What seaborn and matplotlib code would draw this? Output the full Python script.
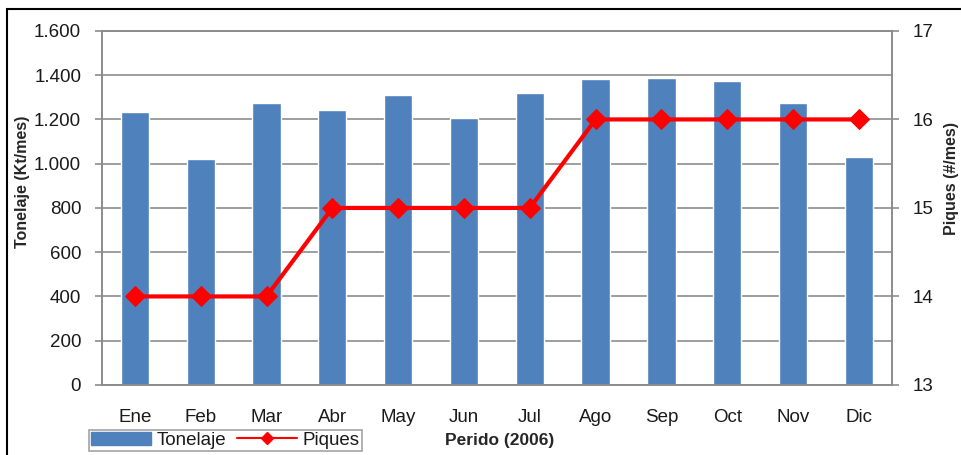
import numpy as np
import pandas as pd
import matplotlib
matplotlib.use("Agg")
import matplotlib.pyplot as plt
import seaborn as sns
from matplotlib.patches import Patch, Rectangle
from matplotlib.lines import Line2D
from matplotlib.ticker import FuncFormatter, FixedLocator

# Datos
meses = ['Ene', 'Feb', 'Mar', 'Abr', 'May', 'Jun', 'Jul', 'Ago', 'Sep', 'Oct', 'Nov', 'Dic']
tonelaje = [1234, 1021, 1275, 1243, 1311, 1207, 1320, 1383, 1388, 1374, 1275, 1031]
piques = [14, 14, 14, 15, 15, 15, 15, 16, 16, 16, 16, 16]

df = pd.DataFrame({'Mes': meses, 'Tonelaje': tonelaje, 'Piques': piques})

sns.set_style('white')
plt.rcParams['font.family'] = ['Liberation Sans', 'DejaVu Sans']

azul = '#4F81BD'
rojo = '#FF0000'
gris = '#8C8C8C'
texto = '#1A1A1A'

fig = plt.figure(figsize=(9.62, 4.55), dpi=100)
ax = fig.add_axes([0.106, 0.154, 0.821, 0.778])

sns.barplot(data=df, x='Mes', y='Tonelaje', color=azul, width=0.43,
            saturation=1, ax=ax, zorder=2)
ax.set_ylim(0, 1600)
ax.set_xlim(-0.5, 11.5)
ax.set_yticks(np.arange(0, 1601, 200))
ax.yaxis.set_major_formatter(FuncFormatter(lambda v, p: f'{int(v):,}'.replace(',', '.')))
ax.grid(axis='y', color=gris, lw=1.2, zorder=0)
ax.set_axisbelow(True)
ax.set_xlabel('')
ax.set_ylabel('')

# marcas del eje x entre categorías
ax.xaxis.set_minor_locator(FixedLocator(np.arange(-0.5, 12, 1)))
ax.tick_params(axis='x', which='major', length=0, labelsize=13.5, pad=17,
               labelcolor=texto)
ax.tick_params(axis='x', which='minor', length=5, color=gris, width=1.2)
ax.tick_params(axis='y', length=5, color=gris, width=1.2, labelsize=13.5,
               pad=10, left=True, labelcolor=texto)

for s in ['left', 'bottom', 'right', 'top']:
    ax.spines[s].set_color(gris)
    ax.spines[s].set_linewidth(1.2)

ax2 = ax.twinx()
sns.lineplot(data=df, x='Mes', y='Piques', color=rojo, lw=3, marker='D',
             markersize=10, markeredgecolor=rojo, sort=False, ax=ax2, zorder=3)
ax2.set_ylim(13, 17)
ax2.set_yticks([13, 14, 15, 16, 17])
ax2.set_ylabel('')
ax2.set_xlabel('')
ax2.tick_params(axis='y', length=5, color=gris, width=1.2, labelsize=13.5,
                pad=10, right=True, labelcolor=texto)
for s in ['left', 'bottom', 'right', 'top']:
    ax2.spines[s].set_color(gris)
    ax2.spines[s].set_linewidth(1.2)

fig.text(0.023, 0.6, 'Tonelaje (Kt/mes)', rotation=90, ha='center', va='center',
         fontsize=11.5, fontweight='bold')
fig.text(0.989, 0.608, 'Piques (#/mes)', rotation=90, ha='center', va='center',
         fontsize=11.5, fontweight='bold')
fig.text(0.519, 0.031, 'Perido (2006)', ha='center', va='center',
         fontsize=12.5, fontweight='bold')

handles = [Patch(facecolor=azul, edgecolor=azul),
           Line2D([0], [0], color=rojo, lw=1.5, marker='D', markersize=6)]
leg = fig.legend(handles, ['Tonelaje', 'Piques'], loc='center',
                 bbox_to_anchor=(0.234, 0.032), ncol=2, fontsize=13.5,
                 frameon=True, fancybox=False, handlelength=3.2,
                 handletextpad=0.3, columnspacing=0.6, borderpad=0.1)
leg.get_frame().set_edgecolor(gris)
leg.get_frame().set_linewidth(1.2)
for t in leg.get_texts():
    t.set_color(texto)

# marco exterior
fig.patches.append(Rectangle((7 / 962, -0.1), 1.1, 1.1 - 9 / 455,
                             transform=fig.transFigure, fill=False,
                             edgecolor='black', lw=1.5))

fig.savefig('out.png', dpi=100)
